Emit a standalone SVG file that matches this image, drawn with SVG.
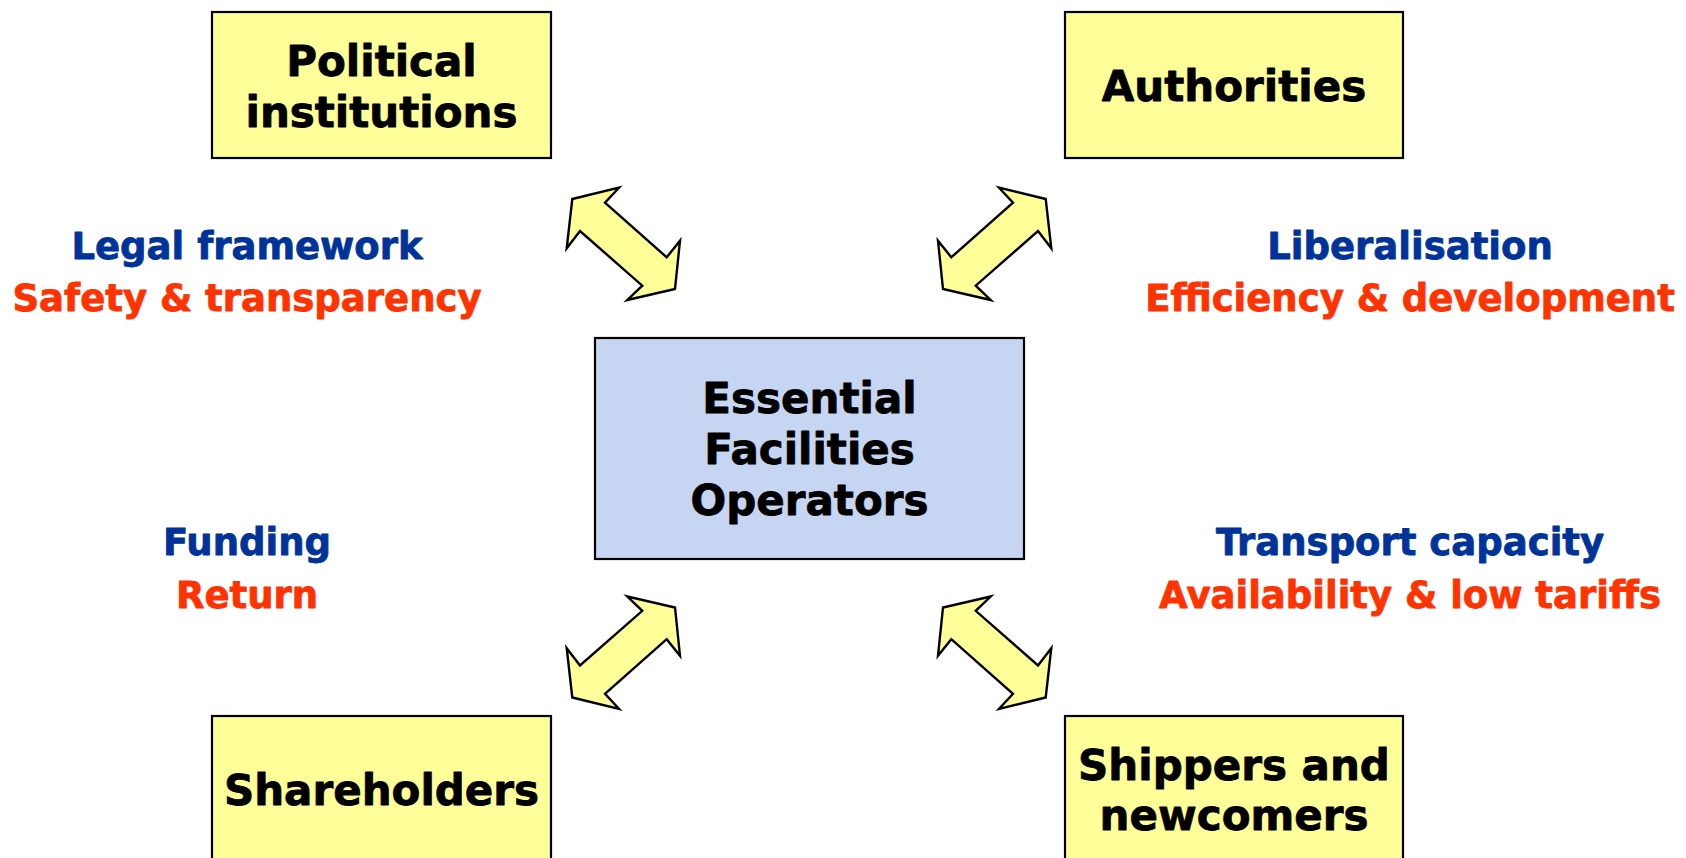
<svg xmlns="http://www.w3.org/2000/svg" width="1686" height="858" viewBox="0 0 1686 858">
<style>
.box{fill:#FFFF99;stroke:#000;stroke-width:2.2}
.center{fill:#C6D5F1;stroke:#000;stroke-width:2.2}
.t{font-family:"DejaVu Sans","Verdana",sans-serif;font-weight:bold;text-anchor:middle;stroke-width:0.8;stroke-linejoin:round}
.nt{font-size:42px;fill:#000;stroke:#000}
.lb{font-size:37px}
.blue{fill:#003399;stroke:#003399}
.red{fill:#FF3300;stroke:#FF3300}
.arr{fill:#FFFF99;stroke:#000;stroke-width:2.4;stroke-linejoin:miter}
</style>
<defs>
<polygon id="dbl" points="572.3,199 619,187.7 605,202.7 666.7,257.3 680,240.7 675,289 627.3,300 642.3,285.7 580,231 566.7,248.3"/>
</defs>
<rect width="1686" height="858" fill="#fff"/>
<g id="connectors">
<use href="#dbl" class="arr"/>
<use href="#dbl" class="arr" transform="translate(1618,0) scale(-1,1)"/>
<use href="#dbl" class="arr" transform="translate(0,896.5) scale(1,-1)"/>
<use href="#dbl" class="arr" transform="translate(1618,896.5) scale(-1,-1)"/>
</g>
<g id="political">
<rect class="box" x="212" y="12" width="339" height="146"/>
<text class="t nt" x="381.5" y="76">Political</text>
<text class="t nt" x="381.5" y="127">institutions</text>
</g>
<g id="authorities">
<rect class="box" x="1065" y="12" width="338" height="146"/>
<text class="t nt" x="1234" y="101">Authorities</text>
</g>
<g id="operators">
<rect class="center" x="595" y="338" width="429" height="221"/>
<text class="t nt" x="809.5" y="413">Essential</text>
<text class="t nt" x="809.5" y="464">Facilities</text>
<text class="t nt" x="809.5" y="515">Operators</text>
</g>
<g id="shareholders">
<rect class="box" x="212" y="716" width="339" height="160"/>
<text class="t nt" x="381.5" y="805">Shareholders</text>
</g>
<g id="shippers">
<rect class="box" x="1065" y="716" width="338" height="160"/>
<text class="t nt" x="1234" y="780">Shippers and</text>
<text class="t nt" x="1234" y="830">newcomers</text>
</g>
<g id="labels">
<text class="t lb blue" x="247" y="259">Legal framework</text>
<text class="t lb red" x="247" y="311">Safety &amp; transparency</text>
<text class="t lb blue" x="1410" y="259">Liberalisation</text>
<text class="t lb red" x="1410" y="311">Efficiency &amp; development</text>
<text class="t lb blue" x="247" y="555">Funding</text>
<text class="t lb red" x="247" y="608">Return</text>
<text class="t lb blue" x="1410" y="555">Transport capacity</text>
<text class="t lb red" x="1410" y="608">Availability &amp; low tariffs</text>
</g>
</svg>
